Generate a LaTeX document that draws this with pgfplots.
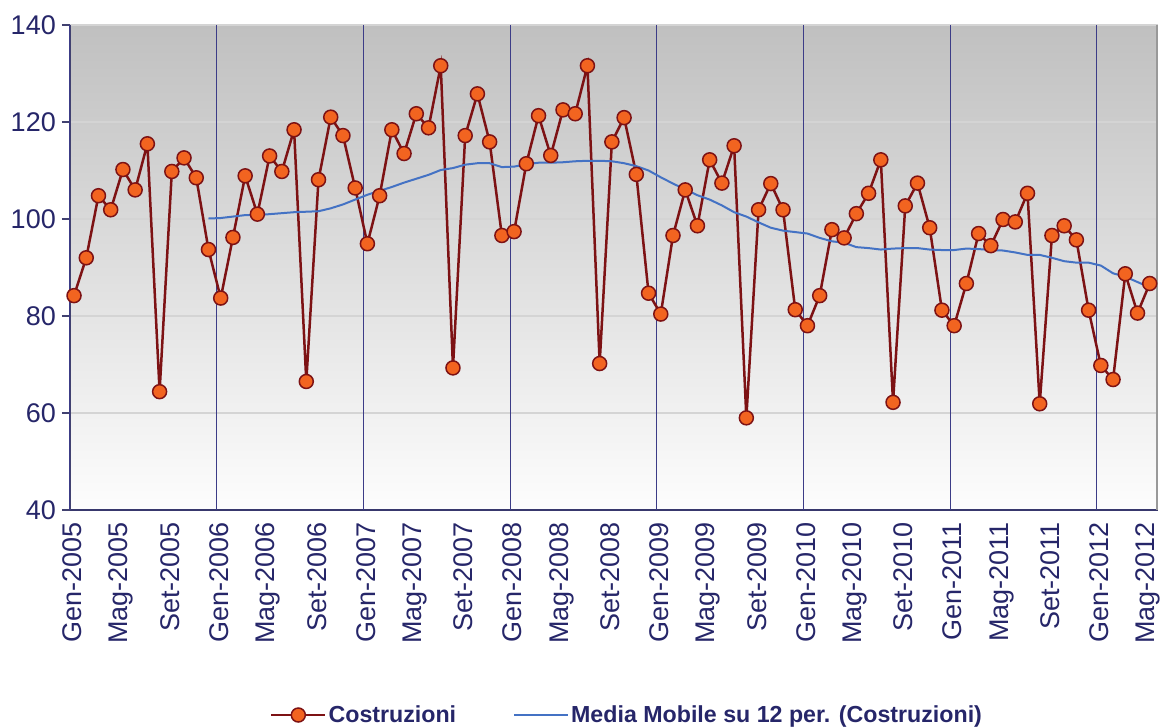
\documentclass[border=0pt]{standalone}
\usepackage{fontspec}
\setmainfont{Liberation Sans}
\usepackage{pgfplots}
\pgfplotsset{compat=1.18}
\definecolor{navy}{RGB}{38,38,105}
\definecolor{vline}{RGB}{60,60,135}
\definecolor{dred}{RGB}{125,18,20}
\definecolor{orng}{RGB}{242,100,32}
\definecolor{mablue}{RGB}{68,114,196}
\definecolor{gridg}{RGB}{212,212,212}
\definecolor{bgtop}{RGB}{192,192,192}
\definecolor{bgbot}{RGB}{253,253,253}
\begin{document}
\begin{tikzpicture}
\path[use as bounding box] (-70pt,-217pt) rectangle (1097pt,510pt);
\begin{axis}[
  at={(0pt,0pt)}, anchor=south west,
  scale only axis, width=1088pt, height=485pt,
  xmin=-0.33, xmax=88.67, ymin=40, ymax=140,
  axis background/.style={top color=bgtop, bottom color=bgbot},
  axis x line*=bottom, axis y line*=left,
  axis line style={-},
  x axis line style={draw=navy!80!gray, line width=2pt},
  y axis line style={draw=navy!70!gray, line width=1.5pt},
  /pgf/number format/assume math mode=true,
  tick label style={font=\fontsize{27}{30}\selectfont, text=navy},
  ytick={40,60,...,140},
  ymajorgrids, major grid style={gridg, line width=1.5pt},
  ytick style={draw=navy!70!gray, line width=1.2pt},
  tick align=outside, major tick length=8pt,
  yticklabel style={inner sep=0pt, xshift=-6pt},
  xtick={-0.13,3.87,...,88},
  xticklabels={Gen-2005,Mag-2005,Set-2005,Gen-2006,Mag-2006,Set-2006,Gen-2007,Mag-2007,Set-2007,Gen-2008,Mag-2008,Set-2008,Gen-2009,Mag-2009,Set-2009,Gen-2010,Mag-2010,Set-2010,Gen-2011,Mag-2011,Set-2011,Gen-2012,Mag-2012},
  xtick style={draw=none},
  xticklabel style={rotate=90, anchor=east, inner sep=0pt},
  xticklabel shift=4pt,
  extra x ticks={-0.33,11.67,23.67,35.67,47.67,59.67,71.67,83.67},
  extra x tick labels={},
  extra x tick style={xmajorgrids=true, ymajorgrids=false, major grid style={vline, line width=1pt}},
  legend style={at={(0.512,-0.4227)}, anchor=center, draw=none, fill=none, legend columns=2,
    font=\bfseries\fontsize{23.2}{27}\selectfont, text=navy,
    /tikz/every even column/.append style={column sep=55pt}},
  legend image code/.code={\draw[mark repeat=2,mark phase=2,#1] plot coordinates {(0pt,0pt) (27pt,0pt) (54pt,0pt)};},
]
\addplot[dred, line width=2.5pt, mark=*, mark size=7pt, mark options={fill=orng, draw=dred, line width=1.5pt}] coordinates {
(0,84.2) (1,92.0) (2,104.8) (3,101.9) (4,110.2) (5,106.0) (6,115.5) (7,64.4) (8,109.8) (9,112.6) (10,108.5) (11,93.7)
(12,83.7) (13,96.2) (14,108.9) (15,101.0) (16,113.0) (17,109.8) (18,118.4) (19,66.5) (20,108.1) (21,121.0) (22,117.2) (23,106.4)
(24,94.9) (25,104.8) (26,118.4) (27,113.5) (28,121.7) (29,118.8) (30,131.6) (31,69.3) (32,117.2) (33,125.8) (34,115.9) (35,96.6)
(36,97.4) (37,111.4) (38,121.3) (39,113.1) (40,122.5) (41,121.7) (42,131.6) (43,70.2) (44,115.9) (45,120.9) (46,109.2) (47,84.7)
(48,80.4) (49,96.6) (50,106.0) (51,98.6) (52,112.2) (53,107.4) (54,115.1) (55,59.0) (56,101.9) (57,107.3) (58,101.9) (59,81.3)
(60,78.0) (61,84.2) (62,97.8) (63,96.1) (64,101.1) (65,105.3) (66,112.2) (67,62.2) (68,102.7) (69,107.4) (70,98.2) (71,81.2)
(72,78.0) (73,86.7) (74,97.0) (75,94.5) (76,99.9) (77,99.4) (78,105.3) (79,61.9) (80,96.6) (81,98.6) (82,95.7) (83,81.2)
(84,69.8) (85,66.9) (86,88.7) (87,80.6) (88,86.7)
};
\addlegendentry{Costruzioni}
\addplot[mablue, line width=2pt, no marks] coordinates {
(11,100.1) (12,100.2) (13,100.5) (14,100.8) (15,100.8) (16,101.0) (17,101.2) (18,101.4) (19,101.5) (20,101.6) (21,102.2) (22,103.0) (23,104.0)
(24,105.0) (25,105.8) (26,106.6) (27,107.5) (28,108.3) (29,109.1) (30,110.1) (31,110.5) (32,111.2) (33,111.5) (34,111.5) (35,110.7)
(36,110.8) (37,111.3) (38,111.6) (39,111.6) (40,111.7) (41,111.9) (42,112.0) (43,112.0) (44,111.9) (45,111.5) (46,110.9) (47,110.0)
(48,108.6) (49,107.3) (50,106.1) (51,104.9) (52,104.0) (53,102.8) (54,101.4) (55,100.5) (56,99.3) (57,98.2) (58,97.6) (59,97.3)
(60,97.0) (61,96.1) (62,95.4) (63,95.1) (64,94.2) (65,94.0) (66,93.7) (67,93.9) (68,94.0) (69,94.0) (70,93.7) (71,93.6)
(72,93.6) (73,93.9) (74,93.8) (75,93.6) (76,93.5) (77,93.1) (78,92.6) (79,92.6) (80,92.0) (81,91.3) (82,91.0) (83,91.0)
(84,90.4) (85,88.8) (86,88.1) (87,87.0) (88,85.9)
};
\addlegendentry{Media Mobile su 12 per. (Costruzioni)}
\draw[gray!80, line width=3pt] (rel axis cs:1,0) -- (rel axis cs:1,1);
\pgfplotsinvokeforeach{-0.33,11.67,23.67,35.67,47.67,59.67,71.67,83.67}{
  \draw[vline, line width=1pt] (axis cs:#1,40) -- ++(0pt,-8pt);
}
\end{axis}
\end{tikzpicture}
\end{document}
